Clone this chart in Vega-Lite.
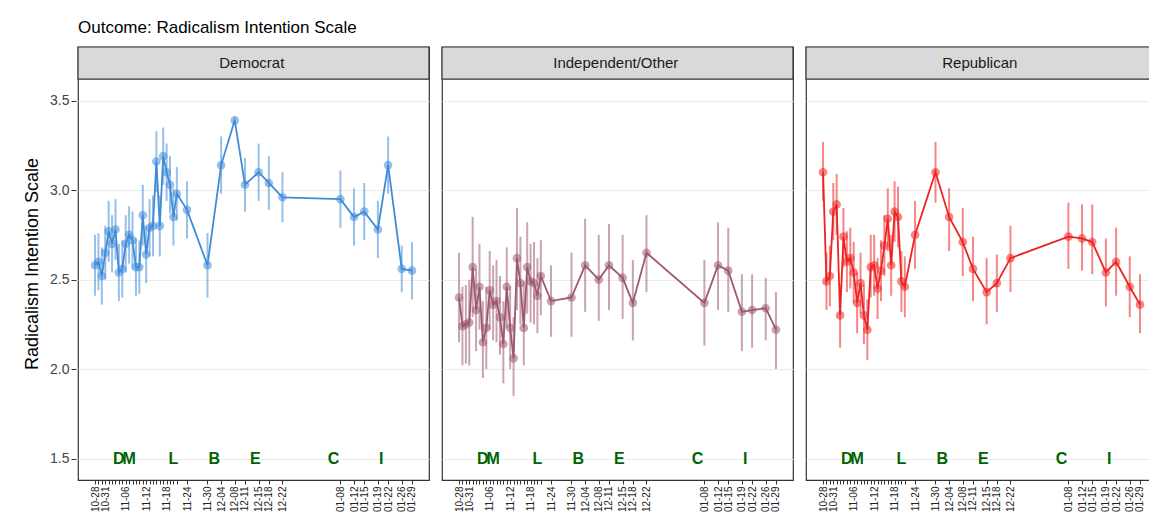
{
  "$schema": "https://vega.github.io/schema/vega-lite/v6.json",
  "padding": {"left": 23, "top": 18, "right": 2, "bottom": 0},
  "title": {"text": "Outcome: Radicalism Intention Scale", "anchor": "start", "frame": "group", "fontSize": 17, "fontWeight": "normal", "font": "Liberation Sans", "color": "#000", "offset": 9},
  "config": {"view": {"stroke": "#333", "strokeWidth": 1.2}, "font": "Liberation Sans"},
  "datasets": {
    "main": [
      {"p":"Democrat","d":"2020-10-28","v":2.58,"lo":2.41,"hi":2.75},
      {"p":"Democrat","d":"2020-10-29","v":2.60,"lo":2.44,"hi":2.76},
      {"p":"Democrat","d":"2020-10-30","v":2.52,"lo":2.36,"hi":2.68},
      {"p":"Democrat","d":"2020-10-31","v":2.65,"lo":2.50,"hi":2.80},
      {"p":"Democrat","d":"2020-11-01","v":2.77,"lo":2.60,"hi":2.94},
      {"p":"Democrat","d":"2020-11-02","v":2.70,"lo":2.54,"hi":2.86},
      {"p":"Democrat","d":"2020-11-03","v":2.78,"lo":2.61,"hi":2.95},
      {"p":"Democrat","d":"2020-11-04","v":2.54,"lo":2.38,"hi":2.70},
      {"p":"Democrat","d":"2020-11-05","v":2.56,"lo":2.40,"hi":2.72},
      {"p":"Democrat","d":"2020-11-06","v":2.70,"lo":2.54,"hi":2.86},
      {"p":"Democrat","d":"2020-11-07","v":2.75,"lo":2.59,"hi":2.91},
      {"p":"Democrat","d":"2020-11-08","v":2.72,"lo":2.56,"hi":2.88},
      {"p":"Democrat","d":"2020-11-09","v":2.57,"lo":2.41,"hi":2.73},
      {"p":"Democrat","d":"2020-11-10","v":2.57,"lo":2.42,"hi":2.72},
      {"p":"Democrat","d":"2020-11-11","v":2.86,"lo":2.69,"hi":3.03},
      {"p":"Democrat","d":"2020-11-12","v":2.64,"lo":2.48,"hi":2.80},
      {"p":"Democrat","d":"2020-11-13","v":2.79,"lo":2.63,"hi":2.95},
      {"p":"Democrat","d":"2020-11-14","v":2.80,"lo":2.63,"hi":2.97},
      {"p":"Democrat","d":"2020-11-15","v":3.16,"lo":2.99,"hi":3.33},
      {"p":"Democrat","d":"2020-11-16","v":2.80,"lo":2.63,"hi":2.97},
      {"p":"Democrat","d":"2020-11-17","v":3.19,"lo":3.03,"hi":3.35},
      {"p":"Democrat","d":"2020-11-18","v":3.10,"lo":2.94,"hi":3.26},
      {"p":"Democrat","d":"2020-11-19","v":3.03,"lo":2.87,"hi":3.19},
      {"p":"Democrat","d":"2020-11-20","v":2.85,"lo":2.69,"hi":3.01},
      {"p":"Democrat","d":"2020-11-21","v":2.98,"lo":2.83,"hi":3.13},
      {"p":"Democrat","d":"2020-11-24","v":2.89,"lo":2.73,"hi":3.05},
      {"p":"Democrat","d":"2020-11-30","v":2.58,"lo":2.40,"hi":2.76},
      {"p":"Democrat","d":"2020-12-04","v":3.14,"lo":2.98,"hi":3.30},
      {"p":"Democrat","d":"2020-12-08","v":3.39,"lo":3.37,"hi":3.41},
      {"p":"Democrat","d":"2020-12-11","v":3.03,"lo":2.88,"hi":3.18},
      {"p":"Democrat","d":"2020-12-15","v":3.10,"lo":2.94,"hi":3.26},
      {"p":"Democrat","d":"2020-12-18","v":3.04,"lo":2.89,"hi":3.19},
      {"p":"Democrat","d":"2020-12-22","v":2.96,"lo":2.82,"hi":3.10},
      {"p":"Democrat","d":"2021-01-08","v":2.95,"lo":2.79,"hi":3.11},
      {"p":"Democrat","d":"2021-01-12","v":2.85,"lo":2.69,"hi":3.01},
      {"p":"Democrat","d":"2021-01-15","v":2.88,"lo":2.72,"hi":3.04},
      {"p":"Democrat","d":"2021-01-19","v":2.78,"lo":2.62,"hi":2.94},
      {"p":"Democrat","d":"2021-01-22","v":3.14,"lo":2.98,"hi":3.30},
      {"p":"Democrat","d":"2021-01-26","v":2.56,"lo":2.43,"hi":2.69},
      {"p":"Democrat","d":"2021-01-29","v":2.55,"lo":2.39,"hi":2.71},
      {"p":"Independent/Other","d":"2020-10-28","v":2.40,"lo":2.15,"hi":2.65},
      {"p":"Independent/Other","d":"2020-10-29","v":2.24,"lo":2.02,"hi":2.46},
      {"p":"Independent/Other","d":"2020-10-30","v":2.25,"lo":2.03,"hi":2.47},
      {"p":"Independent/Other","d":"2020-10-31","v":2.26,"lo":2.02,"hi":2.50},
      {"p":"Independent/Other","d":"2020-11-01","v":2.57,"lo":2.29,"hi":2.85},
      {"p":"Independent/Other","d":"2020-11-02","v":2.33,"lo":2.10,"hi":2.56},
      {"p":"Independent/Other","d":"2020-11-03","v":2.46,"lo":2.22,"hi":2.70},
      {"p":"Independent/Other","d":"2020-11-04","v":2.15,"lo":1.95,"hi":2.38},
      {"p":"Independent/Other","d":"2020-11-05","v":2.23,"lo":2.00,"hi":2.46},
      {"p":"Independent/Other","d":"2020-11-06","v":2.44,"lo":2.22,"hi":2.66},
      {"p":"Independent/Other","d":"2020-11-07","v":2.36,"lo":2.16,"hi":2.58},
      {"p":"Independent/Other","d":"2020-11-08","v":2.38,"lo":2.15,"hi":2.61},
      {"p":"Independent/Other","d":"2020-11-09","v":2.29,"lo":2.08,"hi":2.52},
      {"p":"Independent/Other","d":"2020-11-10","v":2.14,"lo":1.92,"hi":2.38},
      {"p":"Independent/Other","d":"2020-11-11","v":2.46,"lo":2.23,"hi":2.68},
      {"p":"Independent/Other","d":"2020-11-12","v":2.23,"lo":2.00,"hi":2.46},
      {"p":"Independent/Other","d":"2020-11-13","v":2.06,"lo":1.85,"hi":2.29},
      {"p":"Independent/Other","d":"2020-11-14","v":2.62,"lo":2.33,"hi":2.90},
      {"p":"Independent/Other","d":"2020-11-15","v":2.48,"lo":2.25,"hi":2.74},
      {"p":"Independent/Other","d":"2020-11-16","v":2.23,"lo":2.02,"hi":2.49},
      {"p":"Independent/Other","d":"2020-11-17","v":2.57,"lo":2.31,"hi":2.82},
      {"p":"Independent/Other","d":"2020-11-18","v":2.49,"lo":2.26,"hi":2.70},
      {"p":"Independent/Other","d":"2020-11-19","v":2.48,"lo":2.25,"hi":2.71},
      {"p":"Independent/Other","d":"2020-11-20","v":2.41,"lo":2.20,"hi":2.62},
      {"p":"Independent/Other","d":"2020-11-21","v":2.52,"lo":2.30,"hi":2.72},
      {"p":"Independent/Other","d":"2020-11-24","v":2.38,"lo":2.18,"hi":2.58},
      {"p":"Independent/Other","d":"2020-11-30","v":2.40,"lo":2.18,"hi":2.65},
      {"p":"Independent/Other","d":"2020-12-04","v":2.58,"lo":2.32,"hi":2.84},
      {"p":"Independent/Other","d":"2020-12-08","v":2.50,"lo":2.27,"hi":2.75},
      {"p":"Independent/Other","d":"2020-12-11","v":2.58,"lo":2.33,"hi":2.81},
      {"p":"Independent/Other","d":"2020-12-15","v":2.51,"lo":2.28,"hi":2.75},
      {"p":"Independent/Other","d":"2020-12-18","v":2.37,"lo":2.16,"hi":2.61},
      {"p":"Independent/Other","d":"2020-12-22","v":2.65,"lo":2.43,"hi":2.86},
      {"p":"Independent/Other","d":"2021-01-08","v":2.37,"lo":2.13,"hi":2.61},
      {"p":"Independent/Other","d":"2021-01-12","v":2.58,"lo":2.33,"hi":2.82},
      {"p":"Independent/Other","d":"2021-01-15","v":2.55,"lo":2.32,"hi":2.79},
      {"p":"Independent/Other","d":"2021-01-19","v":2.32,"lo":2.10,"hi":2.53},
      {"p":"Independent/Other","d":"2021-01-22","v":2.33,"lo":2.12,"hi":2.53},
      {"p":"Independent/Other","d":"2021-01-26","v":2.34,"lo":2.16,"hi":2.51},
      {"p":"Independent/Other","d":"2021-01-29","v":2.22,"lo":2.00,"hi":2.43},
      {"p":"Republican","d":"2020-10-28","v":3.10,"lo":2.94,"hi":3.27},
      {"p":"Republican","d":"2020-10-29","v":2.49,"lo":2.33,"hi":2.65},
      {"p":"Republican","d":"2020-10-30","v":2.52,"lo":2.35,"hi":2.69},
      {"p":"Republican","d":"2020-10-31","v":2.88,"lo":2.72,"hi":3.04},
      {"p":"Republican","d":"2020-11-01","v":2.92,"lo":2.75,"hi":3.09},
      {"p":"Republican","d":"2020-11-02","v":2.30,"lo":2.12,"hi":2.47},
      {"p":"Republican","d":"2020-11-03","v":2.74,"lo":2.57,"hi":2.90},
      {"p":"Republican","d":"2020-11-04","v":2.60,"lo":2.43,"hi":2.77},
      {"p":"Republican","d":"2020-11-05","v":2.62,"lo":2.45,"hi":2.79},
      {"p":"Republican","d":"2020-11-06","v":2.54,"lo":2.37,"hi":2.71},
      {"p":"Republican","d":"2020-11-07","v":2.37,"lo":2.20,"hi":2.54},
      {"p":"Republican","d":"2020-11-08","v":2.48,"lo":2.31,"hi":2.65},
      {"p":"Republican","d":"2020-11-09","v":2.30,"lo":2.14,"hi":2.47},
      {"p":"Republican","d":"2020-11-10","v":2.22,"lo":2.05,"hi":2.39},
      {"p":"Republican","d":"2020-11-11","v":2.57,"lo":2.40,"hi":2.75},
      {"p":"Republican","d":"2020-11-12","v":2.58,"lo":2.41,"hi":2.75},
      {"p":"Republican","d":"2020-11-13","v":2.45,"lo":2.28,"hi":2.62},
      {"p":"Republican","d":"2020-11-14","v":2.55,"lo":2.38,"hi":2.72},
      {"p":"Republican","d":"2020-11-15","v":2.69,"lo":2.52,"hi":2.86},
      {"p":"Republican","d":"2020-11-16","v":2.84,"lo":2.66,"hi":3.01},
      {"p":"Republican","d":"2020-11-17","v":2.58,"lo":2.41,"hi":2.75},
      {"p":"Republican","d":"2020-11-18","v":2.88,"lo":2.71,"hi":3.05},
      {"p":"Republican","d":"2020-11-19","v":2.85,"lo":2.68,"hi":3.02},
      {"p":"Republican","d":"2020-11-20","v":2.49,"lo":2.32,"hi":2.66},
      {"p":"Republican","d":"2020-11-21","v":2.46,"lo":2.29,"hi":2.63},
      {"p":"Republican","d":"2020-11-24","v":2.75,"lo":2.56,"hi":2.94},
      {"p":"Republican","d":"2020-11-30","v":3.10,"lo":2.93,"hi":3.27},
      {"p":"Republican","d":"2020-12-04","v":2.85,"lo":2.66,"hi":3.01},
      {"p":"Republican","d":"2020-12-08","v":2.71,"lo":2.52,"hi":2.90},
      {"p":"Republican","d":"2020-12-11","v":2.56,"lo":2.38,"hi":2.74},
      {"p":"Republican","d":"2020-12-15","v":2.43,"lo":2.25,"hi":2.62},
      {"p":"Republican","d":"2020-12-18","v":2.48,"lo":2.32,"hi":2.64},
      {"p":"Republican","d":"2020-12-22","v":2.62,"lo":2.43,"hi":2.80},
      {"p":"Republican","d":"2021-01-08","v":2.74,"lo":2.56,"hi":2.93},
      {"p":"Republican","d":"2021-01-12","v":2.73,"lo":2.55,"hi":2.92},
      {"p":"Republican","d":"2021-01-15","v":2.71,"lo":2.53,"hi":2.92},
      {"p":"Republican","d":"2021-01-19","v":2.54,"lo":2.35,"hi":2.73},
      {"p":"Republican","d":"2021-01-22","v":2.60,"lo":2.41,"hi":2.79},
      {"p":"Republican","d":"2021-01-26","v":2.46,"lo":2.29,"hi":2.63},
      {"p":"Republican","d":"2021-01-29","v":2.36,"lo":2.20,"hi":2.53},
      {"p":"Democrat","d":"2020-11-04","ev":"D"},
      {"p":"Democrat","d":"2020-11-07","ev":"M"},
      {"p":"Democrat","d":"2020-11-20","ev":"L"},
      {"p":"Democrat","d":"2020-12-02","ev":"B"},
      {"p":"Democrat","d":"2020-12-14","ev":"E"},
      {"p":"Democrat","d":"2021-01-06","ev":"C"},
      {"p":"Democrat","d":"2021-01-20","ev":"I"},
      {"p":"Independent/Other","d":"2020-11-04","ev":"D"},
      {"p":"Independent/Other","d":"2020-11-07","ev":"M"},
      {"p":"Independent/Other","d":"2020-11-20","ev":"L"},
      {"p":"Independent/Other","d":"2020-12-02","ev":"B"},
      {"p":"Independent/Other","d":"2020-12-14","ev":"E"},
      {"p":"Independent/Other","d":"2021-01-06","ev":"C"},
      {"p":"Independent/Other","d":"2021-01-20","ev":"I"},
      {"p":"Republican","d":"2020-11-04","ev":"D"},
      {"p":"Republican","d":"2020-11-07","ev":"M"},
      {"p":"Republican","d":"2020-11-20","ev":"L"},
      {"p":"Republican","d":"2020-12-02","ev":"B"},
      {"p":"Republican","d":"2020-12-14","ev":"E"},
      {"p":"Republican","d":"2021-01-06","ev":"C"},
      {"p":"Republican","d":"2021-01-20","ev":"I"}
    ]
  },
  "data": {"name": "main"},
  "facet": {"column": {"field": "p", "type": "nominal", "header": {"labels": false, "title": null}}},
  "spacing": 9,
  "resolve": {"axis": {"x": "independent"}},
  "spec": {
    "width": 351,
    "height": 433,
    "encoding": {
      "x": {
        "field": "d", "type": "temporal",
        "scale": {"type": "utc", "domain": [{"year": 2020, "month": 10, "date": 23, "utc": true}, {"year": 2021, "month": 2, "date": 3, "utc": true}]},
        "axis": {
          "title": null, "grid": false, "domain": false, "format": "%m-%d", "labelAngle": -90, "labelFontSize": 10, "labelColor": "#222",
          "labelOverlap": false, "labelBound": false, "labelPadding": 2, "tickColor": "#333", "tickSize": 4,
          "values": [
            {"year":2020,"month":10,"date":28,"utc":true},{"year":2020,"month":10,"date":29,"utc":true},{"year":2020,"month":10,"date":30,"utc":true},{"year":2020,"month":10,"date":31,"utc":true},
            {"year":2020,"month":11,"date":1,"utc":true},{"year":2020,"month":11,"date":2,"utc":true},{"year":2020,"month":11,"date":3,"utc":true},{"year":2020,"month":11,"date":4,"utc":true},
            {"year":2020,"month":11,"date":5,"utc":true},{"year":2020,"month":11,"date":6,"utc":true},{"year":2020,"month":11,"date":7,"utc":true},{"year":2020,"month":11,"date":8,"utc":true},
            {"year":2020,"month":11,"date":9,"utc":true},{"year":2020,"month":11,"date":10,"utc":true},{"year":2020,"month":11,"date":11,"utc":true},{"year":2020,"month":11,"date":12,"utc":true},
            {"year":2020,"month":11,"date":13,"utc":true},{"year":2020,"month":11,"date":14,"utc":true},{"year":2020,"month":11,"date":15,"utc":true},{"year":2020,"month":11,"date":16,"utc":true},
            {"year":2020,"month":11,"date":17,"utc":true},{"year":2020,"month":11,"date":18,"utc":true},{"year":2020,"month":11,"date":19,"utc":true},{"year":2020,"month":11,"date":20,"utc":true},
            {"year":2020,"month":11,"date":21,"utc":true},{"year":2020,"month":11,"date":24,"utc":true},{"year":2020,"month":11,"date":30,"utc":true},{"year":2020,"month":12,"date":4,"utc":true},
            {"year":2020,"month":12,"date":8,"utc":true},{"year":2020,"month":12,"date":11,"utc":true},{"year":2020,"month":12,"date":15,"utc":true},{"year":2020,"month":12,"date":18,"utc":true},
            {"year":2020,"month":12,"date":22,"utc":true},{"year":2021,"month":1,"date":8,"utc":true},{"year":2021,"month":1,"date":12,"utc":true},{"year":2021,"month":1,"date":15,"utc":true},
            {"year":2021,"month":1,"date":19,"utc":true},{"year":2021,"month":1,"date":22,"utc":true},{"year":2021,"month":1,"date":26,"utc":true},{"year":2021,"month":1,"date":29,"utc":true}
          ],
          "labelExpr": "test(/^(10-29|10-30|11-0[1-5]|11-0[7-9]|11-1[01]|11-1[3-7]|11-19|11-2[01])$/, datum.label) ? '' : datum.label"
        }
      }
    },
    "layer": [
      {
        "transform": [{"filter": "isValid(datum.v)"}],
        "mark": {"type": "rule", "strokeWidth": 2, "opacity": 0.55},
        "encoding": {
          "y": {"field": "lo", "type": "quantitative",
            "scale": {"domain": [1.38, 3.8], "nice": false, "zero": false},
            "axis": {"title": "Radicalism Intention Scale", "titleFontSize": 18, "titleFontWeight": "normal", "titleColor": "#000", "values": [1.5, 2, 2.5, 3, 3.5], "format": ".1f", "labelFontSize": 14, "labelColor": "#444", "gridColor": "#ebebeb", "domain": false, "tickColor": "#333", "titlePadding": 8}},
          "y2": {"field": "hi"},
          "color": {"field": "p", "type": "nominal", "legend": null, "scale": {"domain": ["Democrat", "Independent/Other", "Republican"], "range": ["#3f8bd8", "#9c5870", "#ee2222"]}}
        }
      },
      {
        "transform": [{"filter": "isValid(datum.v)"}],
        "mark": {"type": "line", "strokeWidth": 1.8},
        "encoding": {
          "y": {"field": "v", "type": "quantitative"},
          "color": {"field": "p", "type": "nominal", "legend": null}
        }
      },
      {
        "transform": [{"filter": "isValid(datum.v)"}],
        "mark": {"type": "circle", "size": 75, "opacity": 0.55},
        "encoding": {
          "y": {"field": "v", "type": "quantitative"},
          "color": {"field": "p", "type": "nominal", "legend": null}
        }
      },
      {
        "transform": [{"filter": "isValid(datum.ev)"}],
        "mark": {"type": "text", "fontSize": 16, "fontWeight": "bold", "color": "#006400"},
        "encoding": {
          "y": {"datum": 1.5},
          "text": {"field": "ev"}
        }
      },
      {
        "transform": [{"filter": "datum.ev == 'D'"}],
        "mark": {"type": "rect", "fill": "#d9d9d9", "stroke": "#333", "strokeWidth": 1.2},
        "encoding": {
          "x": {"datum": {"year": 2020, "month": 10, "date": 23, "utc": true}},
          "x2": {"datum": {"year": 2021, "month": 2, "date": 3, "utc": true}},
          "y": {"datum": 3.62},
          "y2": {"datum": 3.8}
        }
      },
      {
        "transform": [{"filter": "datum.ev == 'D'"}],
        "mark": {"type": "text", "fontSize": 15, "color": "#1a1a1a"},
        "encoding": {
          "x": {"datum": {"year": 2020, "month": 12, "date": 13, "utc": true}},
          "y": {"datum": 3.71},
          "text": {"field": "p"}
        }
      }
    ]
  }
}
